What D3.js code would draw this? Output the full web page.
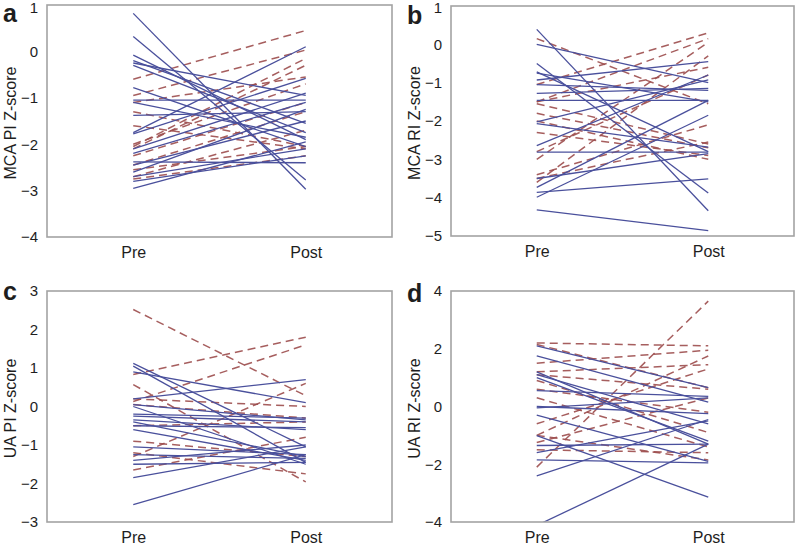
<!DOCTYPE html>
<html>
<head>
<meta charset="utf-8">
<script src="https://cdn.jsdelivr.net/npm/d3@7/dist/d3.min.js"></script>
<style>
  body { margin: 0; background: #fff; }
  svg { display: block; font-family: "Liberation Sans", Arial, sans-serif; }
</style>
</head>
<body>
<svg id="chart" width="800" height="546"></svg>
<script>
// categories
const timepoints = ["Pre", "Post"];

// Panel a: MCA PI Z-score  [pre, post]
const aSolid = [
  [0.82, -2.97], [0.32, -2.77], [-0.08, -1.90], [-0.20, -1.55], [-0.25, -0.95],
  [-0.30, -1.75], [-0.78, -2.05], [-1.05, -1.05], [-1.38, -1.30], [-1.75, 0.10],
  [-1.78, -0.58], [-2.10, -0.90], [-2.38, -2.40], [-2.45, -1.50], [-2.60, -1.25],
  [-2.70, -2.10], [-2.95, -1.95], [-2.80, -2.25], [-1.10, -1.85], [-2.20, -1.10]
];
const aDashed = [
  [-0.60, 0.45], [-0.95, 0.03], [-1.10, -0.55], [-1.30, -2.05], [-2.05, -0.15],
  [-2.10, -0.30], [-2.25, -1.10], [-2.45, -1.30], [-2.55, -2.05], [-2.70, -1.70],
  [-2.75, -2.25], [-1.60, -2.10], [-2.00, -0.70]
];

// Panel b: MCA RI Z-score
const bSolid = [
  [0.39, -4.34], [0.00, -1.00], [-0.50, -3.88], [-0.72, -2.80], [-0.93, -0.45],
  [-1.05, -1.20], [-1.28, -1.15], [-1.46, -1.46], [-2.02, -0.93], [-2.07, -2.68],
  [-2.64, -0.80], [-2.81, -2.81], [-3.73, -1.46], [-3.86, -3.51], [-3.99, -1.85],
  [-4.32, -4.86], [-3.50, -2.85], [-0.75, -1.50]
];
const bDashed = [
  [0.15, -1.55], [-1.05, 0.30], [-1.50, 0.15], [-1.55, -2.60], [-1.80, -2.70],
  [-2.00, -3.00], [-2.80, -0.80], [-3.00, 0.05], [-3.40, -2.10], [-3.50, -2.55],
  [-3.60, -0.30], [-2.30, -2.90], [-1.50, -0.60]
];

// Panel c: UA PI Z-score
const cSolid = [
  [1.12, -1.05], [1.05, -1.45], [0.90, 0.10], [0.20, 0.70], [0.05, -0.35],
  [-0.20, -0.30], [-0.25, -0.40], [-0.40, -1.30], [-0.50, -0.55], [-0.60, -1.40],
  [-1.05, -1.25], [-1.25, -1.35], [-1.40, -1.00], [-1.50, -1.45], [-1.85, -1.05],
  [-2.55, -1.25], [-0.35, -0.60], [0.00, -1.50]
];
const cDashed = [
  [2.52, 0.28], [0.83, 1.80], [0.13, 1.60], [0.57, -1.96], [0.20, 0.00],
  [0.05, -0.30], [-0.50, -0.40], [-0.90, -1.30], [-1.30, 0.60], [-1.65, -0.80],
  [-1.20, -1.75]
];

// Panel d: UA RI Z-score
const dSolid = [
  [2.10, 0.65], [1.75, 0.15], [1.20, -1.30], [1.00, -1.20], [0.00, -0.25],
  [-0.05, 0.30], [-0.30, -1.90], [-1.01, -3.14], [-1.35, -1.30], [-1.60, -0.50],
  [-1.85, -1.95], [-2.40, -0.45], [-4.12, -1.30], [0.55, 0.35], [1.10, -0.60]
];
const dDashed = [
  [-2.10, 3.65], [2.20, 2.10], [2.15, 0.65], [1.50, 1.95], [1.20, 1.45],
  [1.10, 0.60], [0.60, -0.20], [0.90, -0.90], [-1.00, -1.85], [-1.25, 0.30],
  [-0.60, 1.30], [-1.50, -1.60], [0.30, -1.40], [-1.00, 1.75]
];

// tick labels / axis settings
const aTicks = [-4, -3, -2, -1, 0, 1];
const bTicks = [-5, -4, -3, -2, -1, 0, 1];
const cTicks = [-3, -2, -1, 0, 1, 2, 3];
const dTicks = [-4, -2, 0, 2, 4];

const panels = [
  { letter: "a", title: "MCA PI Z-score", solid: aSolid, dashed: aDashed, ticks: aTicks,
    box: { l: 47, r: 392, t: 5, b: 237 }, letterY: 22 },
  { letter: "b", title: "MCA RI Z-score", solid: bSolid, dashed: bDashed, ticks: bTicks,
    box: { l: 451, r: 794, t: 6, b: 236 }, letterY: 24 },
  { letter: "c", title: "UA PI Z-score", solid: cSolid, dashed: cDashed, ticks: cTicks,
    box: { l: 47, r: 392, t: 291, b: 522 }, letterY: 300 },
  { letter: "d", title: "UA RI Z-score", solid: dSolid, dashed: dDashed, ticks: dTicks,
    box: { l: 451, r: 794, t: 291, b: 522 }, letterY: 302 }
];

const svg = d3.select("#chart");
const BLUE = "#4a509c";
const RED = "#9c4c4c";
const TEXT = "#1e1e1e";

panels.forEach((p, pi) => {
  const B = p.box;
  const g = svg.append("g");
  const x = d3.scalePoint().domain(timepoints).range([B.l, B.r]).padding(0.5);
  const y = d3.scaleLinear()
    .domain([d3.min(p.ticks), d3.max(p.ticks)])
    .range([B.b, B.t]);

  const clipId = "clip" + pi;
  svg.append("clipPath").attr("id", clipId).append("rect")
    .attr("x", B.l).attr("y", B.t).attr("width", B.r - B.l).attr("height", B.b - B.t);

  // data lines
  const line = d3.line().x((d, i) => x(timepoints[i])).y(d => y(d));
  const lines = g.append("g").attr("clip-path", `url(#${clipId})`);
  lines.append("g").selectAll("path").data(p.dashed).join("path")
    .attr("d", d => line(d))
    .attr("fill", "none").attr("stroke", RED)
    .attr("stroke-width", 1.5).attr("stroke-dasharray", "8,5")
    .attr("opacity", 0.9);
  lines.append("g").selectAll("path").data(p.solid).join("path")
    .attr("d", d => line(d))
    .attr("fill", "none").attr("stroke", BLUE)
    .attr("stroke-width", 1.3);

  // box
  g.append("rect")
    .attr("x", B.l).attr("y", B.t)
    .attr("width", B.r - B.l).attr("height", B.b - B.t)
    .attr("fill", "none").attr("stroke", "#a3a3a3").attr("stroke-width", 1.6);

  // y axis tick labels
  const yAxis = d3.axisLeft(y).tickValues(p.ticks).tickSize(0).tickPadding(9)
    .tickFormat(d3.format("d"));
  const ya = g.append("g").attr("transform", `translate(${B.l},0)`).call(yAxis);
  ya.select(".domain").remove();
  ya.selectAll("text").attr("font-size", 15).attr("fill", TEXT)
    .attr("font-family", "'Liberation Sans', Arial, sans-serif")
    .attr("y", d => Math.max(0, 8 - y(d)));

  // x axis labels
  const xAxis = d3.axisBottom(x).tickSize(0).tickPadding(10);
  const xa = g.append("g").attr("transform", `translate(0,${B.b})`).call(xAxis);
  xa.select(".domain").remove();
  xa.selectAll("text").attr("font-size", 16).attr("fill", TEXT)
    .attr("font-family", "'Liberation Sans', Arial, sans-serif");

  // y title
  g.append("text")
    .attr("transform", `translate(${B.l - 31},${(B.t + B.b) / 2 + 2}) rotate(-90)`)
    .attr("text-anchor", "middle")
    .attr("font-size", 16).attr("fill", TEXT)
    .text(p.title);

  // panel letter
  g.append("text")
    .attr("x", B.l - 44).attr("y", p.letterY)
    .attr("font-size", 25).attr("font-weight", "bold").attr("fill", TEXT)
    .text(p.letter);
});
</script>
</body>
</html>
